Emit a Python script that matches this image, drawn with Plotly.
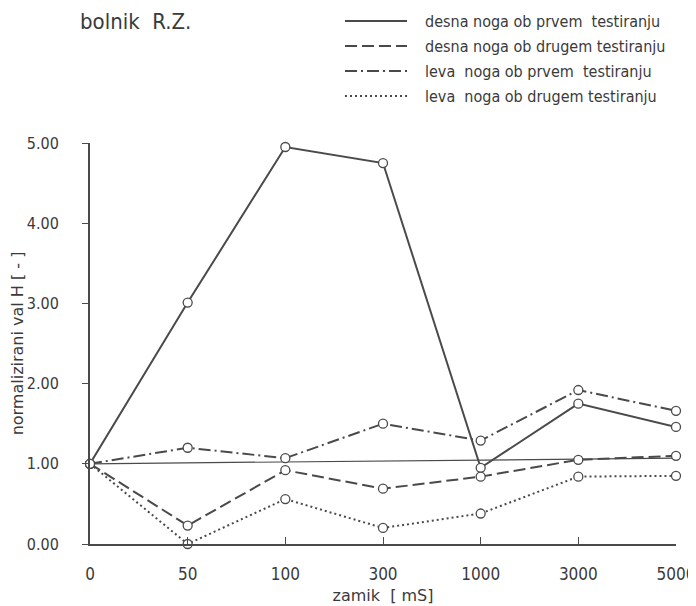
import plotly.graph_objects as go

categories = ["0", "50", "100", "300", "1000", "3000", "5000"]
desna_prvi = [1.00, 3.01, 4.95, 4.75, 0.95, 1.75, 1.46]
desna_drugi = [1.00, 0.23, 0.92, 0.69, 0.84, 1.05, 1.10]
leva_prvi = [1.00, 1.20, 1.07, 1.50, 1.29, 1.92, 1.66]
leva_drugi = [1.00, 0.00, 0.56, 0.20, 0.38, 0.84, 0.85]
ref_x = [0, 6]
ref_y = [1.00, 1.07]
y_ticks = [0, 1, 2, 3, 4, 5]

legend_labels = [
    "desna noga ob prvem\u00a0 testiranju",
    "desna noga ob drugem testiranju",
    "leva\u00a0 noga ob prvem\u00a0 testiranju",
    "leva\u00a0 noga ob drugem testiranju",
]

FONT = "DejaVu Sans Condensed, Liberation Sans Narrow, sans-serif"
INK = "#3a3a3a"
LINE = "#4a4a4a"

# page has an 8px body margin: figure is offset by (8, 8)
OFF = 8
PL, PR, PT, PB = 90, 676, 143, 544   # plot area in page pixels

xs = list(range(len(categories)))
series = [
    (desna_prvi, "solid"),
    (desna_drugi, "12px,5px"),
    (leva_prvi, "12px,4px,2px,4px"),
    (leva_drugi, "2px,3px"),
]

fig = go.Figure()
fig.add_trace(go.Scatter(x=ref_x, y=ref_y, mode="lines",
                         line=dict(color=LINE, width=1.2), showlegend=False,
                         hoverinfo="skip"))
for vals, dash in series:
    fig.add_trace(go.Scatter(
        x=xs, y=vals, mode="lines+markers",
        line=dict(color=LINE, width=2, dash=dash),
        marker=dict(symbol="circle", size=9, color="white",
                    line=dict(color=LINE, width=1.3)),
        showlegend=False, cliponaxis=False))

pw = PR - PL
ph = PB - PT


def px(x):
    return (x - PL) / pw


def py(y):
    return (PB - y) / ph


rows_y = [21, 46, 71, 96]
for (vals, dash), label, yy in zip(series, legend_labels, rows_y):
    fig.add_shape(type="line", xref="paper", yref="paper",
                  x0=px(345), x1=px(407), y0=py(yy), y1=py(yy),
                  line=dict(color=LINE, width=2, dash=dash))
    fig.add_annotation(text=label, xref="paper", yref="paper",
                       x=px(423), y=py(yy),
                       xanchor="left", yanchor="middle", showarrow=False,
                       font=dict(family=FONT, size=16, color=INK))

fig.add_annotation(text="bolnik\u00a0 R.Z.", xref="paper", yref="paper",
                   x=px(78), y=py(21),
                   xanchor="left", yanchor="middle", showarrow=False,
                   font=dict(family=FONT, size=22, color=INK))

W, H = 696 - OFF, 606 - OFF
fig.update_layout(
    width=W, height=H,
    margin=dict(l=PL - OFF, r=W - (PR - OFF), t=PT - OFF, b=H - (PB - OFF),
                autoexpand=False),
    paper_bgcolor="white", plot_bgcolor="white",
    font=dict(family=FONT, color=INK, size=14),
    xaxis=dict(range=[0, 6], tickmode="array", tickvals=xs, ticktext=categories,
               automargin=False,
               showgrid=False, zeroline=False, showline=True, linecolor=LINE,
               linewidth=2, ticks="inside", ticklen=7, tickcolor=LINE,
               tickfont=dict(size=17), ticklabelstandoff=14,
               title=dict(text="zamik\u00a0 [\u00a0mS]",
                          font=dict(family="DejaVu Sans", size=16),
                          standoff=6)),
    yaxis=dict(range=[0, 5], tickmode="array", tickvals=y_ticks,
               ticktext=[f"{v:.2f}" for v in y_ticks],
               automargin=False,
               showgrid=False, zeroline=False, showline=True, linecolor=LINE,
               linewidth=2, ticks="outside", ticklen=6, tickcolor=LINE,
               tickfont=dict(size=16), ticklabelstandoff=20,
               title=dict(text="normalizirani val H [\u00a0-\u00a0]",
                          font=dict(family="DejaVu Sans", size=16),
                          standoff=14)),
)

fig.write_html("out.html")
